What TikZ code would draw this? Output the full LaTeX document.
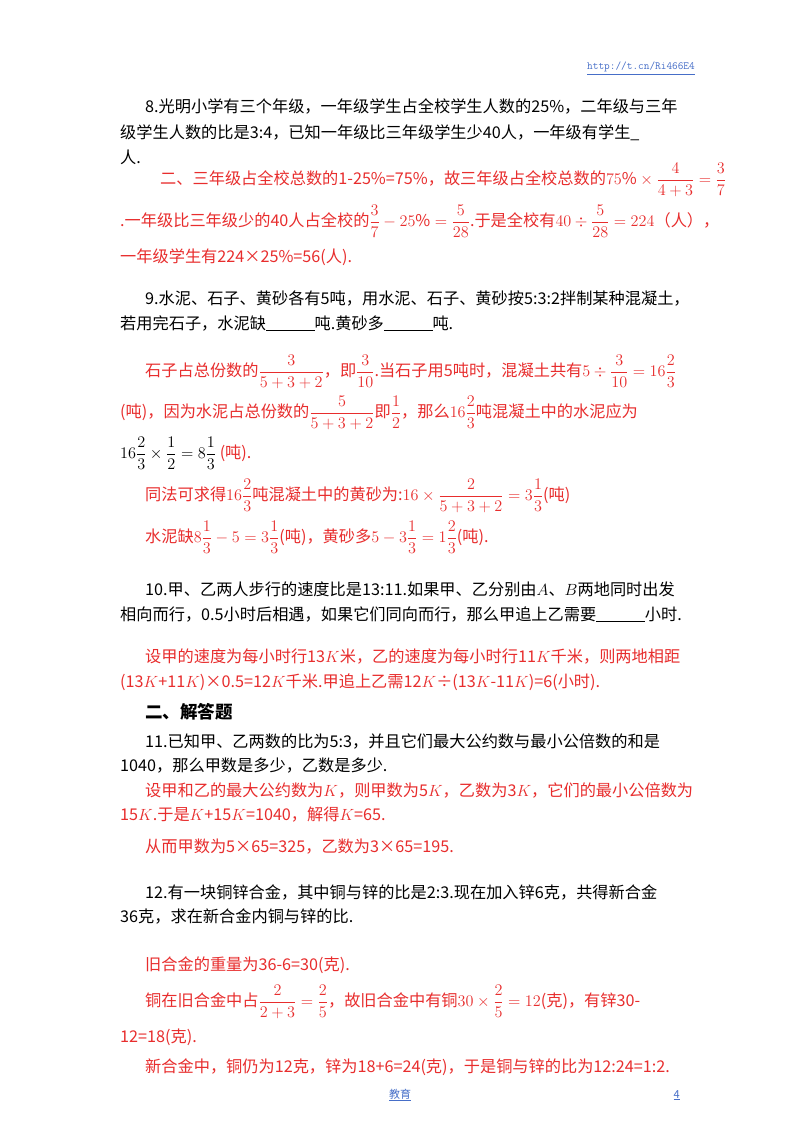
\RequirePackage{fix-cm}
\documentclass[tikz,border=0pt]{standalone}
\usepackage{fontspec}
\setmainfont{Noto Sans CJK SC}
\definecolor{ans}{RGB}{232,45,45}
\definecolor{lnk}{RGB}{70,110,200}
\newcommand{\fsz}{\fontsize{16.2}{19}\selectfont}
\newcommand{\fr}[2]{{\displaystyle\frac{#1}{#2}}}
\newcommand{\blank}{\underline{\hspace{3em}}}
\begin{document}
\begin{tikzpicture}[x=1pt,y=1pt,
  t/.style={anchor=base west,inner sep=0pt,font=\fsz},
  r/.style={t,text=ans}]
\useasboundingbox[fill=white] (0,0) rectangle (800,-1132);
\node[anchor=base east,inner sep=0pt,text=lnk,font=\ttfamily\fontsize{11}{13}\selectfont] (url) at (695,-70) {\underline{http://t.cn/Ri466E4}};
\node[t] (a1) at (145,-112) {8.光明小学有三个年级，一年级学生占全校学生人数的25\%，二年级与三年};
\node[t] (a2) at (120,-138) {级学生人数的比是3:4，已知一年级比三年级学生少40人，一年级有学生\_};
\node[t] (a3) at (120,-163) {人.};
\node[r] (a4) at (160,-184) {二、三年级占全校总数的1-25\%=75\%，故三年级占全校总数的$75\%\times\fr{4}{4+3}=\fr37$};
\node[r] (a5) at (120,-226) {.一年级比三年级少的40人占全校的$\fr37-25\%=\fr5{28}$.于是全校有$40\div\fr5{28}=224$（人），};
\node[r] (a6) at (120,-262) {一年级学生有224×25\%=56(人).};
\node[t] (b1) at (145,-304) {9.水泥、石子、黄砂各有5吨，用水泥、石子、黄砂按5:3:2拌制某种混凝土，};
\node[t] (b2) at (120,-329) {若用完石子，水泥缺\blank 吨.黄砂多\blank 吨.};
\node[r] (b3) at (145,-376) {石子占总份数的$\fr{3}{5+3+2}$，即$\fr3{10}$.当石子用5吨时，混凝土共有$5\div\fr3{10}=16\fr23$};
\node[r] (b4) at (120,-417) {(吨)，因为水泥占总份数的$\fr{5}{5+3+2}$即$\fr12$，那么$16\fr23$吨混凝土中的水泥应为};
\node[t] (b5) at (120,-458) {$16\fr23\times\fr12=8\fr13$ \textcolor{ans}{(吨).}};
\node[r] (b6) at (145,-500) {同法可求得$16\fr23$吨混凝土中的黄砂为:$16\times\fr{2}{5+3+2}=3\fr13$(吨)};
\node[r] (b7) at (145,-542) {水泥缺$8\fr13-5=3\fr13$(吨)，黄砂多$5-3\fr13=1\fr23$(吨).};
\node[t] (c1) at (145,-595) {10.甲、乙两人步行的速度比是13:11.如果甲、乙分别由$A$、$B$两地同时出发};
\node[t] (c2) at (120,-620) {相向而行，0.5小时后相遇，如果它们同向而行，那么甲追上乙需要\blank 小时.};
\node[r] (c3) at (145,-662) {设甲的速度为每小时行13$K$米，乙的速度为每小时行11$K$千米，则两地相距};
\node[r] (c4) at (120,-687) {(13$K$+11$K$)×0.5=12$K$千米.甲追上乙需12$K$÷(13$K$-11$K$)=6(小时).};
\node[t,font=\bfseries\fontsize{17.5}{20}\selectfont] (h) at (145,-718) {二、解答题};
\node[t] (d1) at (145,-747) {11.已知甲、乙两数的比为5:3，并且它们最大公约数与最小公倍数的和是};
\node[t] (d2) at (120,-771) {1040，那么甲数是多少，乙数是多少.};
\node[r] (d3) at (145,-796) {设甲和乙的最大公约数为$K$，则甲数为5$K$，乙数为3$K$，它们的最小公倍数为};
\node[r] (d4) at (120,-820) {15$K$.于是$K$+15$K$=1040，解得$K$=65.};
\node[r] (d5) at (145,-852) {从而甲数为5×65=325，乙数为3×65=195.};
\node[t] (e1) at (145,-898) {12.有一块铜锌合金，其中铜与锌的比是2:3.现在加入锌6克，共得新合金};
\node[t] (e2) at (120,-922) {36克，求在新合金内铜与锌的比.};
\node[r] (e3) at (145,-970) {旧合金的重量为36-6=30(克).};
\node[r] (e4) at (145,-1006) {铜在旧合金中占$\fr{2}{2+3}=\fr25$，故旧合金中有铜$30\times\fr25=12$(克)，有锌30-};
\node[r] (e5) at (120,-1042) {12=18(克).};
\node[r] (e6) at (145,-1072) {新合金中，铜仍为12克，锌为18+6=24(克)，于是铜与锌的比为12:24=1:2.};
\node[anchor=base,inner sep=0pt,text=lnk,font=\fontsize{11}{13}\selectfont] (f1) at (400,-1098) {\underline{教育}};
\node[anchor=base east,inner sep=0pt,text=lnk,font=\fontsize{11}{13}\selectfont] (f2) at (680,-1098) {\underline{4}};
\end{tikzpicture}
\end{document}
